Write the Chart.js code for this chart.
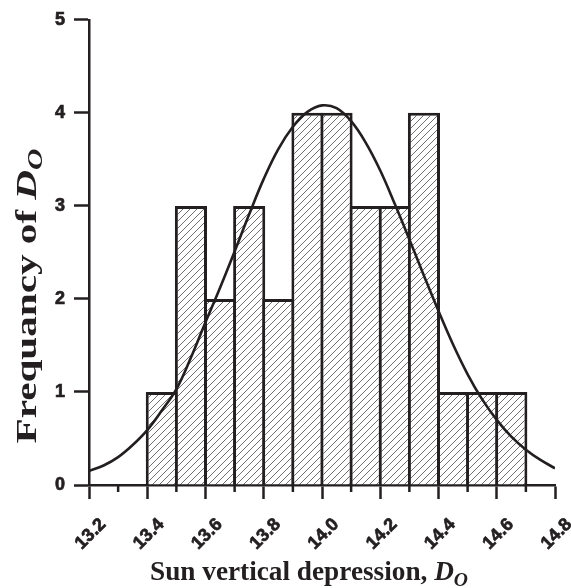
<!DOCTYPE html>
<html>
<head>
<meta charset="utf-8">
<script src="https://cdn.jsdelivr.net/npm/chart.js@4/dist/chart.umd.min.js"></script>
<style>
  html, body { margin: 0; padding: 0; background: #ffffff; }
  #wrap { width: 571px; height: 588px; position: relative; }
</style>
</head>
<body>
<div id="wrap"><canvas id="c" width="571" height="588"></canvas></div>
<script>
// ---- data ----
const binCenters = [13.45, 13.55, 13.65, 13.75, 13.85, 13.95, 14.05, 14.15, 14.25, 14.35, 14.45, 14.55, 14.65];
const frequencies = [1, 3, 2, 3, 2, 4, 4, 3, 3, 4, 1, 1, 1];
const curveX = [13.2, 13.25, 13.3, 13.35, 13.4, 13.45, 13.5, 13.55, 13.6, 13.65, 13.7, 13.75, 13.8, 13.85, 13.9, 13.95, 14.0, 14.05, 14.1, 14.15, 14.2, 14.25, 14.3, 14.35, 14.4, 14.45, 14.5, 14.55, 14.6, 14.65, 14.7, 14.75, 14.8];
const curveY = [0.15, 0.21, 0.30, 0.43, 0.59, 0.80, 1.03, 1.37, 1.75, 2.12, 2.51, 2.91, 3.29, 3.61, 3.85, 4.01, 4.08, 4.05, 3.91, 3.68, 3.38, 3.02, 2.64, 2.25, 1.87, 1.51, 1.19, 0.92, 0.70, 0.52, 0.38, 0.27, 0.18];
const xTickMin = 13.2, xTickMax = 14.8, xTickStep = 0.2;
const minorTicks = [13.3, 13.5, 13.7, 13.9, 14.1, 14.3, 14.5, 14.7];
const yTickMin = 0, yTickMax = 5, yTickStep = 1;
const xTitle = ['Sun vertical depression, ', 'D', 'O'];
const yTitle = ['Frequancy of ', 'D', 'O'];

const INK = '#231f20';

// hatch pattern
function makeHatch() {
  const s = 7;
  const p = document.createElement('canvas');
  p.width = s; p.height = s;
  const g = p.getContext('2d');
  g.fillStyle = '#ffffff';
  g.fillRect(0, 0, s, s);
  g.strokeStyle = '#707070';
  g.lineWidth = 1;
  g.beginPath();
  g.moveTo(-1, s + 1); g.lineTo(s + 1, -1);
  g.moveTo(-1 - s, s + 1); g.lineTo(1, -1);
  g.moveTo(s - 1, 2 * s + 1); g.lineTo(2 * s + 1, s - 1);
  g.stroke();
  return g.createPattern(p, 'repeat');
}
const hatch = makeHatch();

// draws "text D_O" centred at (cx, cy) with font size `size`, stretched along the text so its length equals targetW
function drawMixed(ctx, parts, cx, cy, size, targetW) {
  const fam = '"Liberation Serif", "Times New Roman", serif';
  const fonts = [
    'bold ' + size + 'px ' + fam,
    'italic bold ' + size + 'px ' + fam,
    'italic bold ' + (size * 0.72).toFixed(1) + 'px ' + fam
  ];
  const dys = [0, 0, size * 0.22];
  const widths = parts.map((t, i) => { ctx.font = fonts[i]; return ctx.measureText(t).width; });
  const total = widths.reduce((a, b) => a + b, 0);
  const sx = targetW / total;
  ctx.save();
  ctx.translate(cx, cy);
  ctx.scale(sx, 1);
  ctx.textBaseline = 'alphabetic';
  ctx.textAlign = 'left';
  ctx.fillStyle = INK;
  let x = -total / 2;
  parts.forEach((t, i) => {
    ctx.font = fonts[i];
    ctx.fillText(t, x, dys[i]);
    x += widths[i];
  });
  ctx.restore();
}

const extras = {
  id: 'extras',
  afterDraw(chart) {
    const ctx = chart.ctx;
    const xs = chart.scales.x;
    const y0 = chart.scales.y.getPixelForValue(0);
    ctx.save();
    ctx.strokeStyle = INK;
    ctx.lineWidth = 2.5;
    ctx.beginPath();
    minorTicks.forEach(v => {
      const px = xs.getPixelForValue(v);
      ctx.moveTo(px, y0);
      ctx.lineTo(px, y0 + 7);
    });
    ctx.stroke();
    // axis titles
    drawMixed(ctx, xTitle, 309, 580, 27, 318);
    ctx.save();
    ctx.translate(36, 296);
    ctx.rotate(-Math.PI / 2);
    drawMixed(ctx, yTitle, 0, 0, 29, 295);
    ctx.restore();
    ctx.restore();
  }
};

const tickFont = { family: '"Liberation Sans", Arial, sans-serif', size: 18, weight: 'bold' };

new Chart(document.getElementById('c'), {
  type: 'bar',
  data: {
    datasets: [
      {
        type: 'line',
        data: curveX.map((x, i) => ({ x: x, y: curveY[i] })),
        borderColor: INK,
        borderWidth: 2.6,
        pointRadius: 0,
        tension: 0.4,
        fill: false,
        order: 0
      },
      {
        type: 'bar',
        data: binCenters.map((x, i) => ({ x: x, y: frequencies[i] })),
        backgroundColor: hatch,
        borderColor: INK,
        borderWidth: 3,
        borderSkipped: 'start',
        categoryPercentage: 1,
        barPercentage: 1.103,
        order: 1
      }
    ]
  },
  options: {
    responsive: false,
    animation: false,
    devicePixelRatio: 1,
    layout: { padding: { left: 0, right: 16, top: 16, bottom: 0 } },
    plugins: { legend: { display: false }, tooltip: { enabled: false } },
    scales: {
      x: {
        type: 'linear',
        min: xTickMin,
        max: xTickMax,
        offset: false,
        z: 1,
        border: { display: true, color: INK, width: 2.5 },
        grid: { display: true, drawOnChartArea: false, drawTicks: true, tickLength: 14, tickColor: INK, tickWidth: 2.5, offset: false },
        ticks: {
          stepSize: xTickStep,
          minRotation: 45,
          maxRotation: 45,
          autoSkip: false,
          padding: 15,
          labelOffset: 14,
          color: INK,
          textStrokeColor: INK,
          textStrokeWidth: 0.7,
          font: tickFont,
          callback: v => Number(v).toFixed(1)
        },
        afterFit: s => { s.height = 103; s.paddingLeft = 0; s.paddingRight = 0; }
      },
      y: {
        min: yTickMin,
        max: yTickMax,
        z: 1,
        border: { display: true, color: INK, width: 2.5 },
        grid: { display: true, drawOnChartArea: false, drawTicks: true, tickLength: 15, tickColor: INK, tickWidth: 2.5 },
        ticks: { stepSize: yTickStep, padding: 9, color: INK, textStrokeColor: INK, textStrokeWidth: 0.7, font: tickFont },
        afterFit: s => { s.width = 89; }
      }
    }
  },
  plugins: [extras]
});
</script>
</body>
</html>
